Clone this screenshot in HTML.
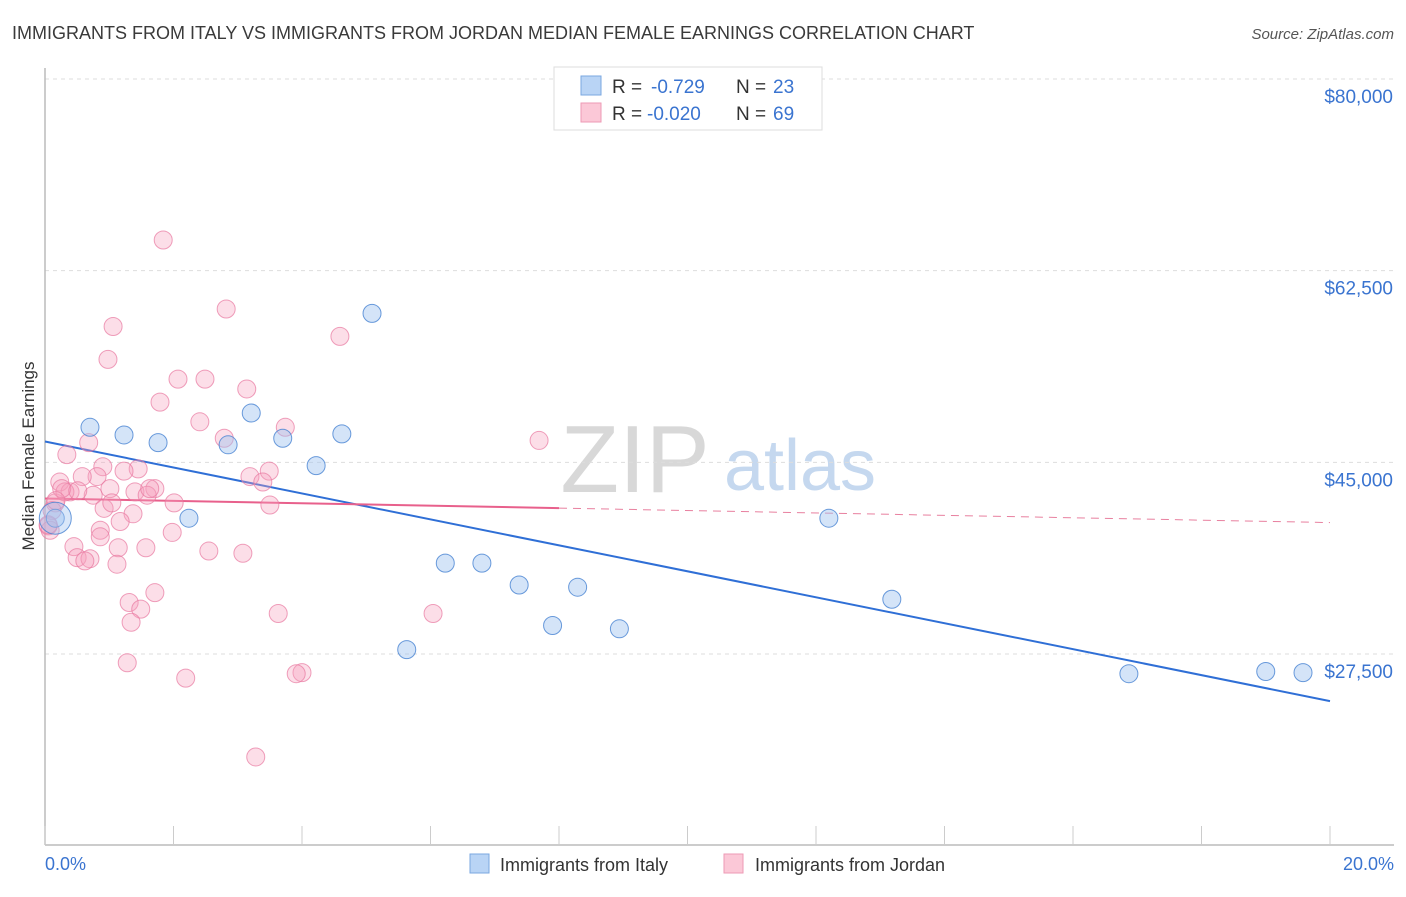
<!DOCTYPE html>
<html><head><meta charset="utf-8"><style>
body{margin:0;background:#fff;font-family:"Liberation Sans",sans-serif;}
svg text{font-family:"Liberation Sans",sans-serif;}
</style></head><body>
<svg id="chart" width="1406" height="892" xmlns="http://www.w3.org/2000/svg">
<text x="12" y="39" font-size="18" fill="#3a3a3a">IMMIGRANTS FROM ITALY VS IMMIGRANTS FROM JORDAN MEDIAN FEMALE EARNINGS CORRELATION CHART</text>
<text x="1394" y="39" font-size="15" fill="#555" font-style="italic" text-anchor="end">Source: ZipAtlas.com</text>
<text transform="translate(34,456) rotate(-90)" font-size="17" fill="#333" text-anchor="middle">Median Female Earnings</text>
<g>
<text x="635" y="492" font-size="96" fill="#d8d8d8" font-family="Liberation Serif" text-anchor="middle">ZIP</text>
<text x="800" y="490" font-size="72" fill="#c5d8ef" text-anchor="middle">atlas</text>
</g>
<g id="grid"></g><g id="axes"></g><g id="lines"></g><g id="pts"></g>
<g>
<rect x="554" y="67" width="268" height="63" fill="#fff" stroke="#ddd"/>
<rect x="581" y="76" width="20" height="19" fill="#b9d4f5" stroke="#7aa7e0"/>
<rect x="581" y="103" width="20" height="19" fill="#fbc8d7" stroke="#ee9ab4"/>
<text x="612" y="93" font-size="19" fill="#333">R = </text><text x="651" y="93" font-size="19" fill="#3a74d0">-0.729</text>
<text x="736" y="93" font-size="19" fill="#333">N = </text><text x="773" y="93" font-size="19" fill="#3a74d0">23</text>
<text x="612" y="120" font-size="19" fill="#333">R = </text><text x="647" y="120" font-size="19" fill="#3a74d0">-0.020</text>
<text x="736" y="120" font-size="19" fill="#333">N = </text><text x="773" y="120" font-size="19" fill="#3a74d0">69</text>
</g>
<g>
<rect x="470" y="854" width="19" height="19" fill="#b9d4f5" stroke="#7aa7e0"/>
<text x="500" y="871" font-size="18" fill="#333">Immigrants from Italy</text>
<rect x="724" y="854" width="19" height="19" fill="#fbc8d7" stroke="#ee9ab4"/>
<text x="755" y="871" font-size="18" fill="#333">Immigrants from Jordan</text>
</g>
</svg>
<script>
const yTicks=[27500,45000,62500,80000];
const yTickLabels=["$27,500","$45,000","$62,500","$80,000"];
const xTickLabels=["0.0%","20.0%"];
const italyX=[0.70,1.23,1.76,2.85,3.21,3.70,4.62,5.09,4.22,2.24,0.16,6.23,6.80,7.38,8.29,7.90,8.94,5.63,12.20,13.18,16.87,19.00,19.58];
const italyY=[48200,47500,46800,46600,49500,47200,47600,58600,44700,39900,39900,35800,35800,33800,33600,30100,29800,27900,39900,32500,25700,25900,25800];
const jordanX=[1.84,2.82,1.06,4.59,0.98,2.07,2.49,3.14,1.79,2.41,3.74,2.79,7.69,0.68,0.34,0.90,1.45,0.81,1.23,3.49,3.19,0.58,3.39,0.23,1.01,1.40,1.71,0.39,0.75,1.59,2.01,3.50,0.16,0.11,0.92,1.37,1.17,0.86,1.98,0.05,0.08,0.86,0.45,1.14,1.57,2.55,3.08,0.50,0.70,0.62,1.12,1.71,1.31,1.49,3.63,6.04,1.34,1.28,4.00,3.91,2.19,3.28,0.31,0.26,0.17,0.51,0.05,1.63,1.04];
const jordanY=[65300,59000,57400,56500,54400,52600,52600,51700,50500,48700,48200,47200,47000,46800,45700,44600,44400,43700,44200,44200,43700,43700,43200,43200,42600,42300,42600,42300,42000,42000,41300,41100,41300,40600,40800,40300,39600,38800,38600,39200,38800,38200,37300,37200,37200,36900,36700,36300,36200,36000,35700,33100,32200,31600,31200,31200,30400,26700,25800,25700,25300,18100,42300,42600,41500,42400,39300,42600,41300];
const italyTrend=[46900,23200]; // value at 0% and 20%
const jordanTrend=[41700,39500];
const NS='http://www.w3.org/2000/svg';
const X=v=>45+v/20*1285;
const Y=v=>79+(80000-v)/52500*575;
function mk(p,t,a){const e=document.createElementNS(NS,t);for(const k in a)e.setAttribute(k,a[k]);document.getElementById(p).appendChild(e);return e;}
yTicks.forEach((v,i)=>{
 const g=mk('grid','line',{x1:45,x2:1394,y1:Y(v),y2:Y(v),stroke:'#ddd','stroke-dasharray':'4,4'});
 
 
 const t=mk('grid','text',{x:1393,y:Y(v)+24,'font-size':19,fill:'#3a74d0','text-anchor':'end'});
 t.textContent=yTickLabels[i];
 
 
});
const ax=mk('axes','line',{x1:45,x2:1394,y1:845,y2:845,stroke:'#bbb','stroke-width':1.5});


const ay=mk('axes','line',{x1:45,x2:45,y1:68,y2:845,stroke:'#bbb','stroke-width':1.5});


for(let i=0;i<=10;i++){const tk=mk('axes','line',{x1:X(i*2),x2:X(i*2),y1:826,y2:845,stroke:'#ccc'});
 
 }
[[0,'start',45],[20,'end',1394]].forEach((d,i)=>{const t=mk('axes','text',{x:d[2],y:870,'font-size':18,fill:'#3a74d0','text-anchor':d[1]});t.textContent=xTickLabels[i];
 
 });
function pts(xs,ys,fill,stroke,name){xs.forEach((x,i)=>{const c=mk('pts','circle',{cx:X(x),cy:Y(ys[i]),r:9,fill:fill,stroke:stroke,'stroke-width':1});
 
 });}
pts(jordanX,jordanY,'rgba(246,160,188,0.35)','rgba(232,120,160,0.7)','jordan-point');
pts(italyX,italyY,'rgba(160,196,240,0.45)','rgba(70,130,210,0.8)','italy-point');
const big=mk('pts','circle',{cx:X(0.16),cy:Y(39900),r:16,fill:'rgba(160,196,240,0.4)',stroke:'rgba(70,130,210,0.8)'});


const il=mk('lines','line',{x1:X(0),y1:Y(italyTrend[0]),x2:X(20),y2:Y(italyTrend[1]),stroke:'#2f6fd6','stroke-width':2});


const jm=jordanTrend[0]+(jordanTrend[1]-jordanTrend[0])*8/20;
const jl=mk('lines','line',{x1:X(0),y1:Y(jordanTrend[0]),x2:X(8),y2:Y(jm),stroke:'#e8608c','stroke-width':2});


const jd=mk('lines','line',{x1:X(8),y1:Y(jm),x2:X(20),y2:Y(jordanTrend[1]),stroke:'#e8809f','stroke-width':1,'stroke-dasharray':'8,6'});


</script>
</body></html>
